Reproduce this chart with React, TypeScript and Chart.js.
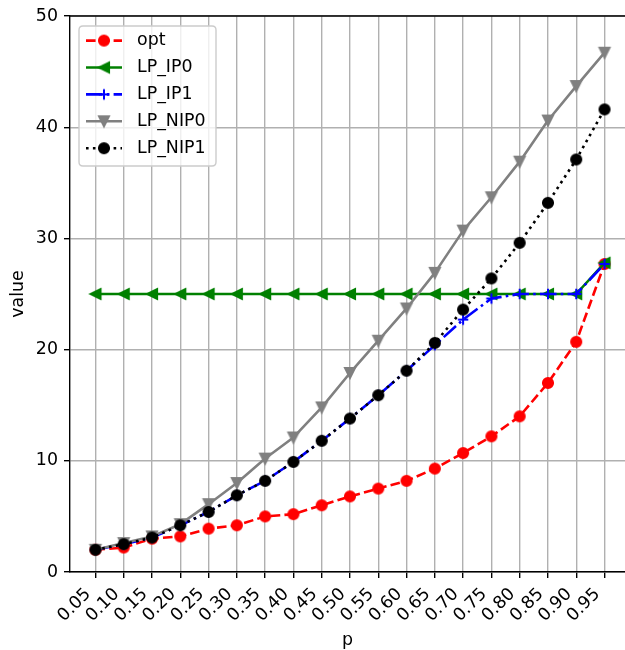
import React, { useEffect, useRef } from 'react';
import { Chart, registerables } from 'chart.js';

Chart.register(...registerables);

const P_VALUES = [0.05, 0.1, 0.15, 0.2, 0.25, 0.3, 0.35, 0.4, 0.45, 0.5, 0.55, 0.6, 0.65, 0.7, 0.75, 0.8, 0.85, 0.9, 0.95];
const P_LABELS = P_VALUES.map((v) => v.toFixed(2));
const OPT = [2.0, 2.2, 3.0, 3.2, 3.9, 4.2, 5.0, 5.2, 6.0, 6.8, 7.5, 8.2, 9.3, 10.7, 12.2, 14.0, 17.0, 20.7, 27.7];
const LP_IP0 = [25, 25, 25, 25, 25, 25, 25, 25, 25, 25, 25, 25, 25, 25, 25, 25, 25, 25, 27.8];
const LP_IP1 = [2.0, 2.5, 3.1, 4.2, 5.4, 6.9, 8.2, 9.9, 11.8, 13.8, 15.9, 18.1, 20.4, 22.7, 24.6, 25.0, 25.0, 25.0, 27.7];
const LP_NIP0 = [2.0, 2.6, 3.2, 4.3, 6.1, 8.0, 10.2, 12.1, 14.8, 17.9, 20.8, 23.7, 26.9, 30.7, 33.7, 36.9, 40.6, 43.7, 46.7];
const LP_NIP1 = [2.0, 2.5, 3.1, 4.2, 5.4, 6.9, 8.2, 9.9, 11.8, 13.8, 15.9, 18.1, 20.6, 23.6, 26.4, 29.6, 33.2, 37.1, 41.6];
const Y_TICKS = [0, 10, 20, 30, 40, 50];

const FONT = 'DejaVu Sans';
const FS = 17.4;
const LW = 2.6;
const EDGE = 1.74;
const MR = 5.2;

function makeMarker(kind: string, color: string): HTMLCanvasElement {
  const s = 18;
  const c = document.createElement('canvas');
  c.width = s;
  c.height = s;
  const ctx = c.getContext('2d')!;
  const m = s / 2;
  const r = MR;
  ctx.fillStyle = color;
  ctx.strokeStyle = color;
  ctx.lineWidth = EDGE;
  ctx.lineJoin = 'miter';
  ctx.beginPath();
  if (kind === 'circle') {
    ctx.arc(m, m, r, 0, Math.PI * 2);
    ctx.fill();
    ctx.stroke();
  } else if (kind === 'down') {
    ctx.moveTo(m - r, m - r);
    ctx.lineTo(m + r, m - r);
    ctx.lineTo(m, m + r);
    ctx.closePath();
    ctx.fill();
    ctx.stroke();
  } else if (kind === 'left') {
    ctx.moveTo(m - r, m);
    ctx.lineTo(m + r, m - r);
    ctx.lineTo(m + r, m + r);
    ctx.closePath();
    ctx.fill();
    ctx.stroke();
  } else {
    ctx.lineWidth = 2;
    ctx.moveTo(m - r, m);
    ctx.lineTo(m + r, m);
    ctx.moveTo(m, m - r);
    ctx.lineTo(m, m + r);
    ctx.stroke();
  }
  return c;
}

const legendPlugin = {
  id: 'innerLegend',
  afterDatasetsDraw(chart: any) {
    const ctx = chart.ctx as CanvasRenderingContext2D;
    const ca = chart.chartArea;
    const bx = ca.left + 9;
    const by = ca.top + 10;
    const bw = 137;
    const bh = 140;
    ctx.save();
    ctx.beginPath();
    const rr = 4;
    ctx.moveTo(bx + rr, by);
    ctx.lineTo(bx + bw - rr, by);
    ctx.quadraticCurveTo(bx + bw, by, bx + bw, by + rr);
    ctx.lineTo(bx + bw, by + bh - rr);
    ctx.quadraticCurveTo(bx + bw, by + bh, bx + bw - rr, by + bh);
    ctx.lineTo(bx + rr, by + bh);
    ctx.quadraticCurveTo(bx, by + bh, bx, by + bh - rr);
    ctx.lineTo(bx, by + rr);
    ctx.quadraticCurveTo(bx, by, bx + rr, by);
    ctx.closePath();
    ctx.fillStyle = 'rgba(255,255,255,0.8)';
    ctx.fill();
    ctx.strokeStyle = '#cccccc';
    ctx.lineWidth = 1.39;
    ctx.stroke();

    chart.data.datasets.forEach((ds: any, i: number) => {
      const y = by + 14.6 + i * 26.9;
      const x0 = bx + 7;
      const x1 = x0 + 36;
      ctx.beginPath();
      ctx.setLineDash(ds.borderDash || []);
      ctx.lineCap = 'butt';
      ctx.strokeStyle = ds.borderColor;
      ctx.lineWidth = ds.borderWidth;
      ctx.moveTo(x0, y);
      ctx.lineTo(x1, y);
      ctx.stroke();
      ctx.setLineDash([]);
      const img = ds.pointStyle as HTMLCanvasElement;
      ctx.drawImage(img, (x0 + x1) / 2 - img.width / 2, y - img.height / 2);
      ctx.fillStyle = '#000';
      ctx.font = `${FS}px "${FONT}"`;
      ctx.textAlign = 'left';
      ctx.textBaseline = 'middle';
      ctx.fillText(ds.label, bx + 58, y);
    });
    ctx.restore();
  },
  afterDraw(chart: any) {
    const ctx = chart.ctx as CanvasRenderingContext2D;
    const ca = chart.chartArea;
    ctx.save();
    ctx.beginPath();
    ctx.strokeStyle = '#000';
    ctx.lineWidth = 1.39;
    ctx.moveTo(ca.left - 0.7, ca.top);
    ctx.lineTo(ca.right + 2, ca.top);
    ctx.stroke();
    // rotated x tick labels (matplotlib style: rotation 45, ha right)
    const xs = chart.scales.x;
    ctx.fillStyle = '#000';
    ctx.font = `${FS}px "${FONT}"`;
    ctx.textAlign = 'right';
    ctx.textBaseline = 'middle';
    P_VALUES.forEach((v, i) => {
      const px = xs.getPixelForValue(v);
      ctx.save();
      ctx.translate(px - 7.2, ca.bottom + 19.4);
      ctx.rotate(-Math.PI / 4);
      ctx.fillText(P_LABELS[i], 0, 0);
      ctx.restore();
    });
    ctx.restore();
  },
};

export default function App() {
  const ref = useRef<HTMLCanvasElement | null>(null);
  useEffect(() => {
    if (!ref.current) return;
    const mk = (label: string, data: number[], color: string, dash: number[], marker: string, order: number) => ({
      label,
      data: P_VALUES.map((p, i) => ({ x: p, y: data[i] })),
      borderColor: color,
      backgroundColor: color,
      borderWidth: LW,
      borderDash: dash,
      borderCapStyle: 'butt',
      borderJoinStyle: 'round',
      pointStyle: makeMarker(marker, color),
      pointRadius: 6,
      tension: 0,
      order,
      clip: false,
    });
    const chart = new Chart(ref.current, {
      type: 'line',
      data: {
        datasets: [
          mk('opt', OPT, '#ff0000', [9.6, 4.2], 'circle', 5),
          mk('LP_IP0', LP_IP0, '#008000', [], 'left', 4),
          mk('LP_IP1', LP_IP1, '#0000ff', [16.6, 4.2, 2.6, 4.2], 'plus', 3),
          mk('LP_NIP0', LP_NIP0, '#808080', [], 'down', 2),
          mk('LP_NIP1', LP_NIP1, '#000000', [2.6, 4.3], 'circle', 1),
        ] as any,
      },
      options: {
        responsive: false,
        animation: false,
        devicePixelRatio: 1,
        layout: { autoPadding: false, padding: { left: 0, right: 0, top: 16, bottom: 0 } },
        plugins: { legend: { display: false }, tooltip: { enabled: false } },
        scales: {
          x: {
            type: 'linear',
            min: 0.005,
            max: 0.9862,
            afterBuildTicks: (scale: any) => {
              scale.ticks = P_VALUES.map((v) => ({ value: v }));
            },
            afterFit: (scale: any) => {
              scale.height = 78;
              scale.paddingLeft = 0;
              scale.paddingRight = 0;
            },
            ticks: {
              display: false,
              autoSkip: false,
            },
            grid: { color: '#b0b0b0', lineWidth: 1.39, tickLength: 6, tickColor: '#000', tickWidth: 1.39 },
            border: { color: '#000', width: 1.39 },
            title: {
              display: true,
              text: 'p',
              color: '#000',
              font: { family: FONT, size: FS, lineHeight: 1 },
              padding: { top: 0, bottom: 1 },
            },
          },
          y: {
            type: 'linear',
            min: 0,
            max: 50,
            afterBuildTicks: (scale: any) => {
              scale.ticks = Y_TICKS.map((v) => ({ value: v }));
            },
            afterFit: (scale: any) => {
              scale.width = 70;
              scale.paddingTop = 0;
              scale.paddingBottom = 0;
            },
            ticks: {
              padding: 6,
              color: '#000',
              font: { family: FONT, size: FS },
              callback: (v: any) => String(v),
            },
            grid: { color: '#b0b0b0', lineWidth: 1.39, tickLength: 6, tickColor: '#000', tickWidth: 1.39 },
            border: { color: '#000', width: 1.39 },
            title: {
              display: true,
              text: 'value',
              color: '#000',
              font: { family: FONT, size: FS, lineHeight: 1.2 },
              padding: { top: 8, bottom: 0 },
            },
          },
        },
      },
      plugins: [legendPlugin],
    });
    return () => chart.destroy();
  }, []);
  return (
    <div style={{ position: 'absolute', left: 0, top: 0, width: 625, height: 650, background: '#fff' }}>
      <canvas ref={ref} width={625} height={650} style={{ display: 'block', width: 625, height: 650 }} />
    </div>
  );
}
